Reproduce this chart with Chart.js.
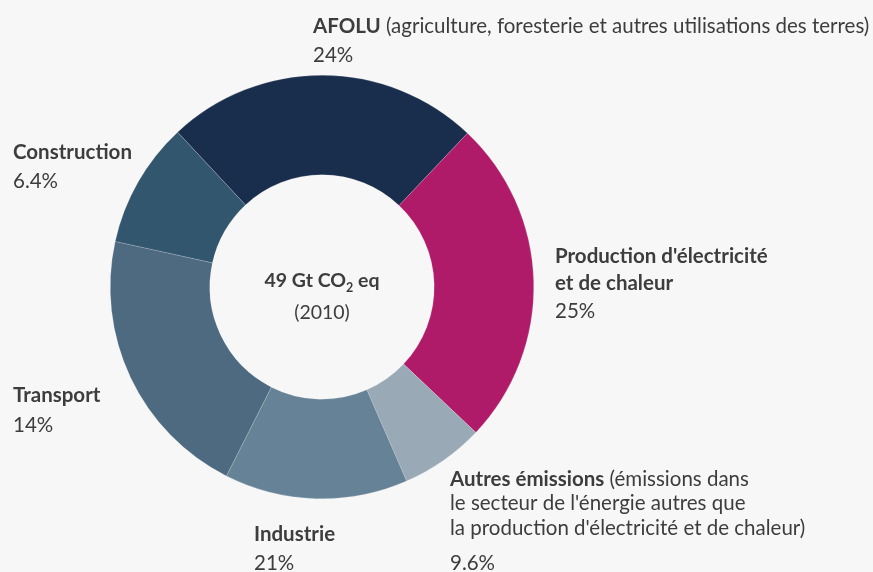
<!DOCTYPE html>
<html>
<head>
<meta charset="utf-8">
<script src="https://cdn.jsdelivr.net/npm/chart.js@4"></script>
<style>
  html, body { margin: 0; padding: 0; background: #f7f7f7; }
  #wrap { width: 873px; height: 572px; position: relative; }
</style>
</head>
<body>
<div id="wrap"><canvas id="sectorChart"></canvas></div>
<script>
// Sectors, in the clockwise order of the ring (starting with AFOLU at top)
const sectors = [
  "AFOLU",
  "Production d'électricité et de chaleur",
  "Autres émissions",
  "Industrie",
  "Transport",
  "Construction"
];
// Arc sizes as drawn in the source picture (%)
const arcValues = [24, 25, 6.4, 14, 21, 9.6];
// Shares as printed in the labels
const printedShares = ["24%", "25%", "9.6%", "21%", "14%", "6.4%"];
const sectorColors = ["#192d4c", "#af1b68", "#99a9b6", "#668296", "#4d6a81", "#33566f"];

// label text blocks: [bold head, normal tail] per line
const labelLines = [
  [["AFOLU", " (agriculture, foresterie et autres utilisations des terres)"]],
  [["Production d'électricité", ""], ["et de chaleur", ""]],
  [["Autres émissions", " (émissions dans"], ["", "le secteur de l'énergie autres que"], ["", "la production d'électricité et de chaleur)"]],
  [["Industrie", ""]],
  [["Transport", ""]],
  [["Construction", ""]]
];
// where each label block sits: x, first line y, line step, share y
const labelPos = [
  { x: 313, y: 26, step: 27, share: 55 },
  { x: 555, y: 256, step: 27, share: 311 },
  { x: 450, y: 479, step: 24.5, share: 563 },
  { x: 254, y: 534, step: 27, share: 563 },
  { x: 13, y: 395, step: 27, share: 425 },
  { x: 13, y: 152, step: 27, share: 181 }
];

const FONT = "Lato, 'Noto Sans', sans-serif";
const SIZE = 20.5;
const TEXT = "#3d3d3d";

const labelPlugin = {
  id: "sectorLabels",
  afterDraw(chart) {
    const ctx = chart.ctx;
    ctx.save();
    ctx.textBaseline = "middle";
    ctx.textAlign = "left";
    ctx.fillStyle = TEXT;
    labelLines.forEach((lines, i) => {
      const p = labelPos[i];
      lines.forEach((ln, j) => {
        const y = p.y + j * p.step;
        let x = p.x;
        if (ln[0]) {
          ctx.font = "bold " + SIZE + "px " + FONT;
          ctx.fillText(ln[0], x, y);
          x += ctx.measureText(ln[0]).width;
        }
        if (ln[1]) {
          ctx.font = SIZE + "px " + FONT;
          ctx.fillText(ln[1], x, y);
        }
      });
      ctx.font = SIZE + "px " + FONT;
      ctx.fillText(printedShares[i], p.x, p.share);
    });

    // center text
    const cx = (chart.chartArea.left + chart.chartArea.right) / 2;
    const big = "bold 19.5px " + FONT, sub = "bold 12.5px " + FONT;
    ctx.font = big;
    const a = "49 Gt CO", b = " eq";
    const wa = ctx.measureText(a).width, wb = ctx.measureText(b).width;
    ctx.font = sub;
    const ws = ctx.measureText("2").width;
    const x = cx - (wa + ws + wb) / 2;
    ctx.font = big;
    ctx.fillText(a, x, 281);
    ctx.font = sub;
    ctx.fillText("2", x + wa, 288);
    ctx.font = big;
    ctx.fillText(b, x + wa + ws, 281);
    ctx.font = "19.5px " + FONT;
    ctx.textAlign = "center";
    ctx.fillText("(2010)", cx, 313);
    ctx.restore();
  }
};

new Chart(document.getElementById("sectorChart"), {
  type: "doughnut",
  data: {
    labels: sectors,
    datasets: [{
      data: arcValues,
      backgroundColor: sectorColors,
      borderWidth: 0.5,
      borderColor: "rgba(255,255,255,0.35)",
      hoverOffset: 0
    }]
  },
  options: {
    responsive: true,
    maintainAspectRatio: false,
    animation: false,
    rotation: -43,
    cutout: "53%",
    layout: { padding: { left: 110, right: 339, top: 75, bottom: 73 } },
    plugins: {
      legend: { display: false },
      tooltip: { enabled: false }
    }
  },
  plugins: [labelPlugin]
});
</script>
</body>
</html>
